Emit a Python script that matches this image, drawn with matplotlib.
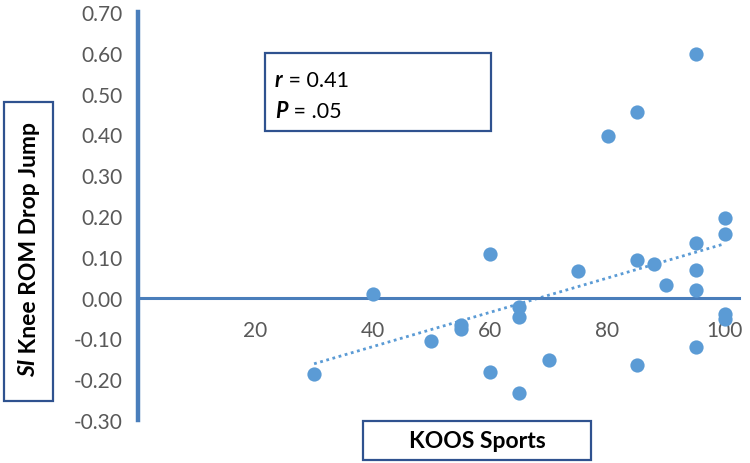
import numpy as np
import matplotlib
matplotlib.use("Agg")
import matplotlib.pyplot as plt
from matplotlib.patches import Rectangle

plt.rcParams['font.family'] = ['Lato', 'DejaVu Sans']

# KOOS Sports score vs SI knee ROM (drop jump)
koos = [30, 40, 50, 55, 55, 60, 60, 65, 65, 65, 70, 75, 80, 85, 85, 85,
        88, 90, 95, 95, 95, 95, 95, 100, 100, 100, 100]
si_rom = [-0.188, 0.010, -0.106, -0.066, -0.076, 0.106, -0.182, -0.023, -0.047, -0.233,
          -0.154, 0.065, 0.395, 0.456, 0.092, -0.166,
          0.083, 0.030, 0.598, 0.135, 0.067, 0.018, -0.121, 0.196, 0.156, -0.040, -0.052]

x_ticks = [20, 40, 60, 80, 100]
y_ticks = [0.70, 0.60, 0.50, 0.40, 0.30, 0.20, 0.10, 0.00, -0.10, -0.20, -0.30]

dot_col = '#5B9BD5'
axis_col = '#4A7EBB'
box_col = '#2F528F'
tick_col = '#595959'

fig = plt.figure(figsize=(7.5, 4.64), dpi=100)
ax = fig.add_axes([138 / 750, 43 / 464, 601 / 750, 408 / 464])

ax.scatter(koos, si_rom, s=105, color=dot_col, zorder=3, linewidths=0)

# linear trendline
k, b = np.polyfit(koos, si_rom, 1)
xs = np.array([min(koos), max(koos)])
ax.plot(xs, k * xs + b, linestyle=(0, (1, 1.3)), color=dot_col, lw=2.0, zorder=2)

ax.set_xlim(0, 102.4)
ax.set_ylim(-0.30, 0.70)
ax.set_xticks(x_ticks)
ax.set_yticks(y_ticks)
ax.set_yticklabels(['%.2f' % v for v in y_ticks])

for s in ['top', 'right']:
    ax.spines[s].set_visible(False)
ax.spines['bottom'].set_position(('data', 0))
ax.spines['bottom'].set_color(axis_col)
ax.spines['bottom'].set_linewidth(2.2)
ax.spines['left'].set_color(axis_col)
ax.spines['left'].set_linewidth(3.2)

ax.tick_params(axis='both', length=0, labelsize=15, labelcolor=tick_col)
ax.tick_params(axis='y', pad=11)
ax.tick_params(axis='x', pad=16)

# helper: draw a box in pixel coords
def px_box(x0, y0, x1, y1):
    fig.patches.append(Rectangle((x0 / 750, 1 - y1 / 464), (x1 - x0) / 750, (y1 - y0) / 464,
                                 transform=fig.transFigure, fill=False,
                                 edgecolor=box_col, lw=1.6, zorder=5))

# stats box
px_box(265, 54, 491, 132)
t = fig.text(275 / 750, 1 - 81 / 464, 'r', fontsize=15.5, fontweight='bold', style='italic',
             va='center', ha='left')
ax.annotate(' = 0.41', xy=(1, 0), xycoords=t, va='bottom', ha='left', fontsize=15.5)
t = fig.text(275 / 750, 1 - 112 / 464, 'P', fontsize=15.5, fontweight='bold', style='italic',
             va='center', ha='left')
ax.annotate(' = .05', xy=(1, 0), xycoords=t, va='bottom', ha='left', fontsize=15.5)

# y label box
px_box(4, 103, 53, 402)
t = fig.text(29 / 750, 1 - 377 / 464, 'SI', fontsize=16.5, fontweight='bold', style='italic',
             rotation=90, va='bottom', ha='center')
ax.annotate(' Knee ROM Drop Jump', xy=(0, 1), xycoords=t, va='bottom', ha='left',
            fontsize=16.5, fontweight='bold', rotation=90)

# x label box
px_box(363, 422, 591, 461)
fig.text(477 / 750, 1 - 441 / 464, 'KOOS Sports', fontsize=16.5, fontweight='bold',
         va='center', ha='center')

fig.savefig('out.png', dpi=100)
